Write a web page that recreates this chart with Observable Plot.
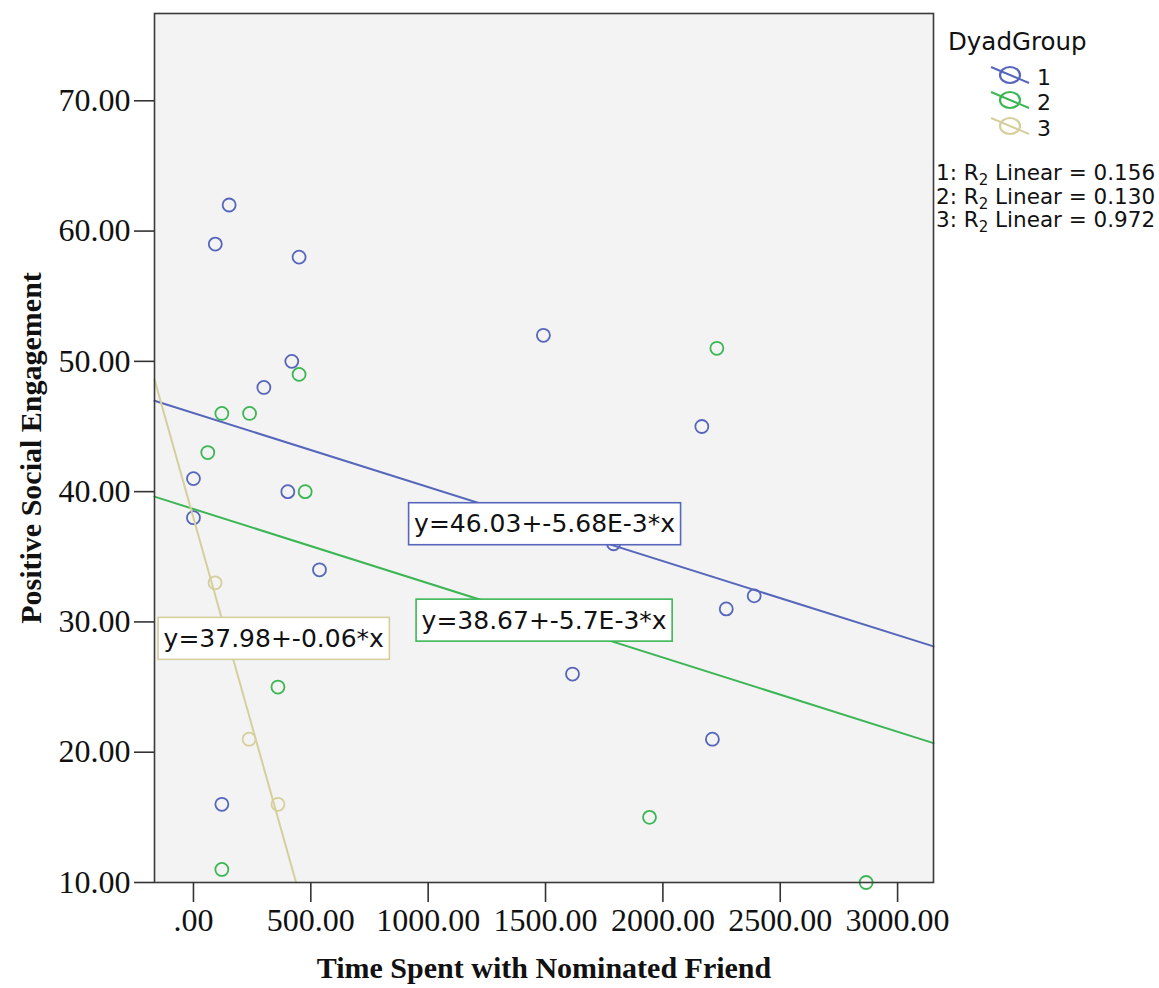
<!DOCTYPE html>
<html><head><meta charset="utf-8">
<script src="https://cdn.jsdelivr.net/npm/d3@7"></script>
<script src="https://cdn.jsdelivr.net/npm/@observablehq/plot@0.6"></script>
<style>
body{margin:0;background:#fff;}
#wrap{position:relative;width:1159px;height:988px;}
#legend{position:absolute;left:934px;top:0;width:225px;height:240px;}
g[aria-label="x-axis tick label"] text{font-family:"Liberation Serif";font-size:32px;fill:#111;}
g[aria-label="y-axis tick label"] text{font-family:"Liberation Serif";font-size:32px;fill:#111;}
g[aria-label="x-axis label"] text, g[aria-label="y-axis label"] text{font-family:"Liberation Serif";font-weight:bold;font-size:30px;fill:#111;}
g[aria-label="text"] text{font-family:"DejaVu Sans";font-size:25px;fill:#111;}
</style></head><body><div id="wrap"><div id="legend"></div></div>
<script>
// ---- data ----
const groups = ["1", "2", "3"];
const colors = ["#5566bb", "#3cb655", "#d5cf9e"];
const g1X = [152, 93, 450, 1491, 419, 300, 0, 402, 0, 537, 2166, 1790, 2389, 2270, 1615, 2211, 121];
const g1Y = [62, 59, 58, 52, 50, 48, 41, 40, 38, 34, 45, 36, 32, 31, 26, 21, 16];
const g2X = [2230, 450, 121, 239, 61, 476, 360, 1943, 121, 2866];
const g2Y = [51, 49, 46, 46, 43, 40, 25, 15, 11, 10];
const g3X = [92, 237, 360];
const g3Y = [33, 21, 16];
const intercepts = [46.03, 38.67, 37.98];
const slopes = [-0.00568, -0.0057, -0.064];
const eqLabels = ["y=46.03+-5.68E-3*x", "y=38.67+-5.7E-3*x", "y=37.98+-0.06*x"];
const eqX = [1496, 1494, 342];
const eqY = [37.5, 30.1, 28.7];
const r2Values = ["0.156", "0.130", "0.972"];
const xTicks = [0, 500, 1000, 1500, 2000, 2500, 3000];
const yTicks = [10, 20, 30, 40, 50, 60, 70];
const xDomain = [-166, 3153];
const yDomain = [10, 76.7];
const xTitle = "Time Spent with Nominated Friend";
const yTitle = "Positive Social Engagement";
const legendTitle = "DyadGroup";

// ---- derived tables ----
const groupX = [g1X, g2X, g3X], groupY = [g1Y, g2Y, g3Y];
const points = groups.flatMap((g, i) => groupX[i].map((x, j) => ({x, y: groupY[i][j], group: g})));
const lines = groups.flatMap((g, i) => {
  const a = intercepts[i], b = slopes[i];
  let x0 = xDomain[0], x1 = xDomain[1];
  const xAtTop = (yDomain[1] - a) / b, xAtBottom = (yDomain[0] - a) / b;
  x0 = Math.max(x0, Math.min(xAtTop, xAtBottom));
  x1 = Math.min(x1, Math.max(xAtTop, xAtBottom));
  return [x0, x1].map(x => ({x, y: a + b * x, group: g}));
});
const eqs = groups.map((g, i) => ({x: eqX[i], y: eqY[i], text: eqLabels[i], group: g}));

const plot = Plot.plot({
  width: 1159, height: 988,
  marginLeft: 154, marginRight: 226, marginTop: 13, marginBottom: 106,
  style: {fontFamily: "Liberation Serif", color: "#111", background: "white", overflow: "visible"},
  x: {domain: xDomain},
  y: {domain: yDomain},
  color: {domain: groups, range: colors},
  marks: [
    Plot.frame({fill: "#f3f3f3", stroke: "none"}),
    Plot.dot(points, {x: "x", y: "y", stroke: "group", r: 6.5, strokeWidth: 1.8, fill: "none"}),
    Plot.line(lines, {x: "x", y: "y", z: "group", stroke: "group", strokeWidth: 2}),
    Plot.text(eqs, {x: "x", y: "y", text: "text", fill: "#111"}),
    Plot.frame({stroke: "#3a3a3a", strokeWidth: 1.6, fill: "none"}),
    Plot.axisX({ticks: xTicks, tickSize: 20, tickPadding: 6, stroke: "#333", strokeWidth: 1.6,
      tickFormat: d => d === 0 ? ".00" : d.toFixed(2),
      label: xTitle, labelAnchor: "center", labelOffset: 95, labelArrow: "none"}),
    Plot.axisY({ticks: yTicks, tickSize: 20, tickPadding: 4, stroke: "#333", strokeWidth: 1.6,
      tickFormat: d => d.toFixed(2),
      label: yTitle, labelAnchor: "center", labelOffset: 135, labelArrow: "none"})
  ]
});
document.getElementById("wrap").prepend(plot);

// strip any automatic arrows from the axis titles
plot.querySelectorAll('g[aria-label="x-axis label"] text, g[aria-label="y-axis label"] text').forEach(t => {
  t.textContent = t.textContent.replace(/[\u2190-\u2193]/g, "").trim();
});

// equation boxes
const ns = "http://www.w3.org/2000/svg";
plot.querySelectorAll('g[aria-label="text"] text').forEach((t, i) => {
  const b = t.getBBox();
  const r = document.createElementNS(ns, "rect");
  r.setAttribute("x", b.x - 5.5); r.setAttribute("y", b.y - 6.5);
  r.setAttribute("width", b.width + 11); r.setAttribute("height", b.height + 13);
  r.setAttribute("fill", "#fff"); r.setAttribute("stroke", colors[i]); r.setAttribute("stroke-width", 1.6);
  if (t.getAttribute("transform")) r.setAttribute("transform", t.getAttribute("transform"));
  t.parentNode.insertBefore(r, t);
});

// legend
const L = d3.select("#legend").append("svg").attr("width", 225).attr("height", 240)
  .style("font-family", "DejaVu Sans").style("fill", "#111");
L.append("text").attr("x", 14).attr("y", 50).attr("font-size", 24.5).text(legendTitle);
const symY = [75, 100, 126];
groups.forEach((g, i) => {
  const cy = symY[i];
  L.append("line").attr("x1", 57).attr("y1", cy - 8).attr("x2", 95).attr("y2", cy + 8)
    .attr("stroke", colors[i]).attr("stroke-width", 2);
  L.append("ellipse").attr("cx", 76).attr("cy", cy).attr("rx", 10).attr("ry", 8)
    .attr("fill", "none").attr("stroke", colors[i]).attr("stroke-width", 2.2);
  L.append("text").attr("x", 103).attr("y", cy + 10).attr("font-size", 22).text(g);
});
const r2Y = [180, 204, 227];
groups.forEach((g, i) => {
  const t = L.append("text").attr("x", 2).attr("y", r2Y[i]).attr("font-size", 21.5);
  t.append("tspan").text(g + ": R");
  t.append("tspan").attr("dy", 5).attr("font-size", 15).text("2");
  t.append("tspan").attr("dy", -5).text(" Linear = " + r2Values[i]);
});
</script>
</body></html>
